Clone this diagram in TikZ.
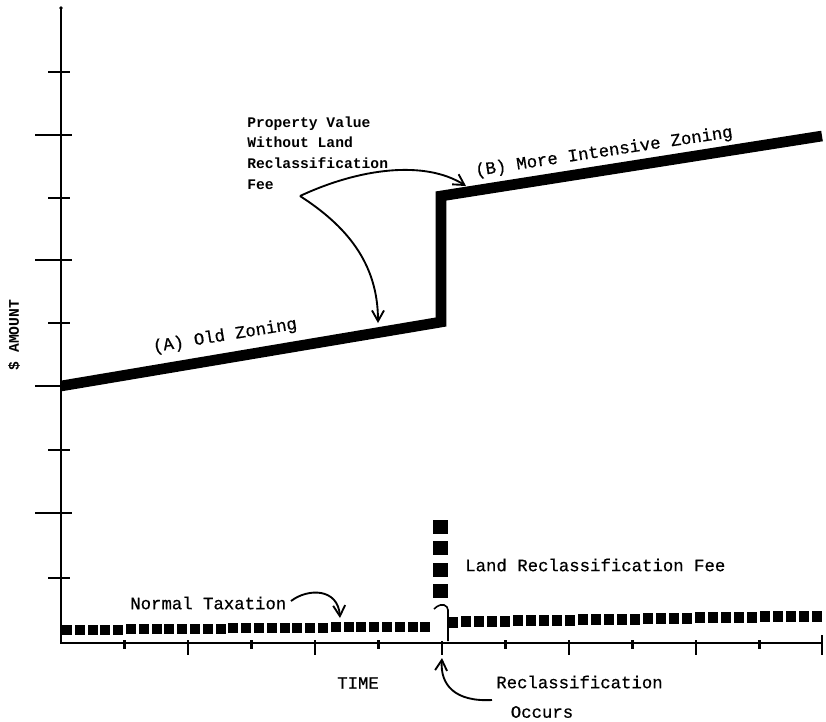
\documentclass[tikz,border=0pt]{standalone}
\usepackage{fontspec}
\setmonofont{Liberation Mono}
\newfontfamily\typew[FakeBold=0.6]{Liberation Mono}
\usetikzlibrary{arrows.meta}
\begin{document}
\begin{tikzpicture}[x=0.75pt,y=-0.75pt,
  axis/.style={line width=2.2pt},
  tickmark/.style={line width=1.8pt},
  zone/.style={line width=8pt, line join=miter, line cap=butt},
  callout/.style={line width=1.4pt, -{Straight Barb[length=8pt,width=9pt,line width=1.4pt]}},
  lbl/.style={font=\typew\fontsize{13}{15}\selectfont, inner sep=0pt},
  blbl/.style={font=\ttfamily\bfseries\fontsize{11}{15.4}\selectfont, inner sep=0pt},
  fee/.style={fill=black}]
\useasboundingbox (0,0) rectangle (826,722);

% axes
\coordinate (ytop) at (61,8);
\coordinate (orig) at (61,643);
\coordinate (xend) at (822,643);
\draw[axis] (ytop) -- (orig) -- (xend);
\fill (ytop) circle (1.8);

% y ticks
\foreach \yy in {72,198,323,450,578} \draw[tickmark] (48,\yy) -- (70,\yy);
\foreach \yy in {135,260,386,513} \draw[tickmark] (35,\yy) -- (72,\yy);

% x ticks
\foreach \k in {1,3,5,7,9,11} \draw[tickmark] ({61+63.5*\k},640) -- ({61+63.5*\k},649);
\foreach \k in {2,4,6,8,10} \draw[tickmark] ({61+63.5*\k},640) -- ({61+63.5*\k},655);
\draw[tickmark] (822,635) -- (822,655);

% property value line
\coordinate (a0) at (61,386);
\coordinate (a1) at (441,322);
\coordinate (b0) at (441,196);
\coordinate (b1) at (822,136);
\draw[zone] (a0) -- (a1) -- (b0) -- (b1);

% normal taxation dotted bars
\foreach \i in {0,...,28} {
  \pgfmathsetmacro{\xx}{62+12.8*\i}
  \pgfmathsetmacro{\yc}{630-3.5*\i/28}
  \fill[fee] (\xx,\yc-5) rectangle (\xx+10,\yc+5);
}
\foreach \i in {0,...,28} {
  \pgfmathsetmacro{\xx}{448+13*\i}
  \pgfmathsetmacro{\yc}{622-6*\i/28}
  \fill[fee] (\xx,\yc-5.5) rectangle (\xx+10,\yc+5.5);
}
% reclassification fee bar
\foreach \yy in {527,548,570,591} \fill[fee] (433,\yy-7) rectangle (448,\yy+7);
\fill[white] (432,604) rectangle (449,641);
\draw[line width=1.2pt, rounded corners=3pt] (434,609) -- (440,604) -- (448,606) -- (448,641);

% labels
\node[lbl, rotate=9.2] (oldz) at (225,336) {(A) Old Zoning};
\node[lbl, rotate=8.6] (morez) at (604,152) {(B) More Intensive Zoning};
\node[blbl, align=left, anchor=west] (pv) at (247,153) {Property Value\\Without Land\\Reclassification\\Fee};
\node[blbl, rotate=90] (amt) at (14,335) {\$ AMOUNT};
\node[lbl, anchor=west] (lrf) at (465,565) {Land Reclassification Fee};
\node[lbl, anchor=west] (nt) at (130,603) {Normal Taxation};
\node[lbl] (time) at (358,683) {TIME};
\node[lbl, anchor=west] (rc) at (496,682) {Reclassification};
\node[lbl] (occ) at (542,712) {Occurs};

% callouts
\coordinate (vpt) at (300,196);
\coordinate (tipb) at (466,186);
\coordinate (tipa) at (378,323);
\draw[callout] (vpt) .. controls (360,168) and (425,160) .. (tipb);
\draw[callout] (vpt) .. controls (345,225) and (378,262) .. (tipa);

\coordinate (ntstart) at (291,601);
\coordinate (nttip) at (340,618);
\draw[callout] (ntstart) .. controls (308,588) and (338,588) .. (nttip);

\coordinate (rcstart) at (492,700);
\coordinate (rctip) at (442,658);
\draw[callout] (rcstart) .. controls (455,702) and (440,685) .. (rctip);
\end{tikzpicture}
\end{document}
